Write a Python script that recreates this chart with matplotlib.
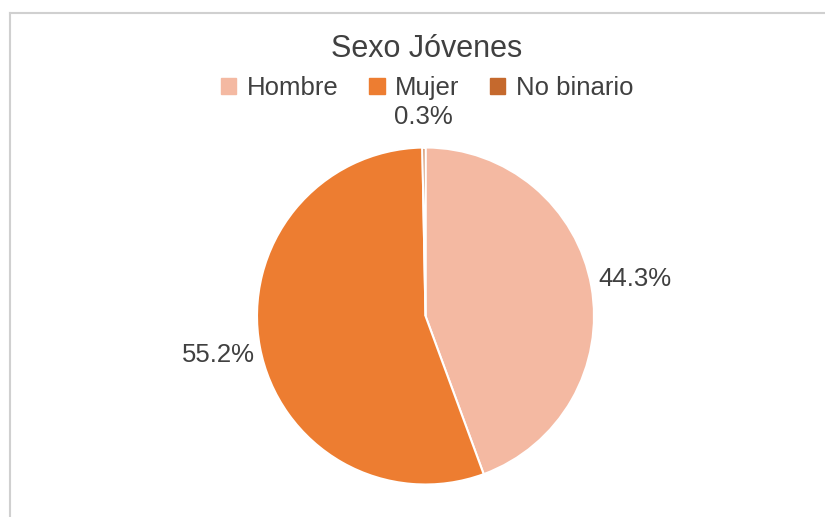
import numpy as np
import matplotlib
matplotlib.use("Agg")
import matplotlib.pyplot as plt
from matplotlib.lines import Line2D

plt.rcParams['font.family'] = ['Liberation Sans', 'DejaVu Sans']

title = "Sexo Jóvenes"
categories = ["Hombre", "Mujer", "No binario"]
values = [44.3, 55.2, 0.3]
colors = ["#F4B9A2", "#ED7D31", "#C5692D"]
label_dist = [1.26, 1.25, 1.18]

W, H = 825, 517
fig = plt.figure(figsize=(W / 100, H / 100), dpi=100)

# chart border (cropped chart area)
fig.add_artist(Line2D([10 / W, 10 / W], [0, 1 - 13 / H], color="#D0D0D0", lw=1.5))
fig.add_artist(Line2D([10 / W, 1], [1 - 13 / H, 1 - 13 / H], color="#D0D0D0", lw=1.5))

cx, cy, r = 425.5, 316, 168.5
ax = fig.add_axes([(cx - r) / W, (H - cy - r) / H, 2 * r / W, 2 * r / H])
wedges, _ = ax.pie(values, colors=colors, startangle=90, counterclock=False,
                   radius=1.0, wedgeprops=dict(edgecolor="white", linewidth=1.5))
ax.set_xlim(-1, 1)
ax.set_ylim(-1, 1)
ax.set_aspect("auto")
ax.axis("off")

for w, v, d in zip(wedges, values, label_dist):
    ang = np.deg2rad((w.theta1 + w.theta2) / 2)
    ax.text(d * np.cos(ang), d * np.sin(ang), f"{v:.1f}%", ha="center", va="center",
            fontsize=18.5, color="#404040", clip_on=False)

fig.text(427 / W, 1 - 49 / H, title, ha="center", va="center", fontsize=22, color="#404040")

handles = [plt.Rectangle((0, 0), 1, 1, color=c) for c in colors]
fig.legend(handles, categories, loc="center", bbox_to_anchor=(427 / W, 1 - 88 / H),
           ncol=3, frameon=False, fontsize=18.5, handlelength=0.6, handleheight=0.6,
           handletextpad=0.4, columnspacing=1.2, labelcolor="#404040")

fig.savefig("out.png", dpi=100, facecolor="white")
